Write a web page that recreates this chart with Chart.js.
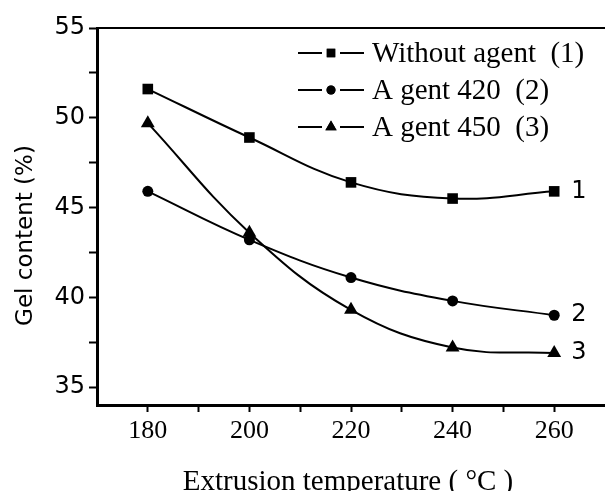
<!DOCTYPE html>
<html><head><meta charset="utf-8">
<script src="https://cdn.jsdelivr.net/npm/chart.js@4/dist/chart.umd.min.js"></script>
<style>html,body{margin:0;padding:0;background:#fff;overflow:hidden}canvas{display:block}</style>
</head><body>
<canvas id="c" width="605" height="491"></canvas>
<script>
// ---- data ----
const temperatures = [180, 200, 220, 240, 260];
const withoutAgent = [51.6, 48.9, 46.4, 45.5, 45.9];
const agent420 = [45.9, 43.2, 41.1, 39.8, 39.0];
const agent450 = [49.7, 43.6, 39.3, 37.2, 36.9];
const seriesNames = ['Without agent  (1)', 'A gent 420  (2)', 'A gent 450  (3)'];
const curveTags = ['1', '2', '3'];
const xTickValues = [180, 190, 200, 210, 220, 230, 240, 250, 260];
const xLabelValues = [180, 200, 220, 240, 260];
const yTickValues = [35, 37.5, 40, 42.5, 45, 47.5, 50, 52.5, 55];
const yLabelValues = [35, 40, 45, 50, 55];
const xRange = [170, 270];
const yRange = [34, 55];
const xTitle = 'Extrusion temperature ( \u00B0C )';
const yTitle = 'Gel content (%)';

const seriesValues = [withoutAgent, agent420, agent450];
const pointStyles = ['rect', 'circle', 'triangle'];
const pointRadii = [7.5, 5.5, 8];
const legendRadii = [6, 4.5, 6.5];

const datasets = seriesValues.map((vals, i) => ({
  label: seriesNames[i],
  data: temperatures.map((t, j) => ({x: t, y: vals[j]})),
  borderColor: '#000',
  backgroundColor: '#000',
  borderWidth: 2,
  tension: 0.4,
  fill: false,
  pointStyle: pointStyles[i],
  pointRadius: pointRadii[i],
  pointBackgroundColor: '#000',
  pointBorderWidth: 0,
  clip: false
}));

const decorations = {
  id: 'decorations',
  afterDraw(chart) {
    const ctx = chart.ctx;
    const a = chart.chartArea;
    ctx.save();
    // top frame line
    ctx.strokeStyle = '#000';
    ctx.lineWidth = 2;
    ctx.beginPath();
    ctx.moveTo(a.left, a.top);
    ctx.lineTo(a.right + 10, a.top);
    ctx.stroke();

    // curve tags
    ctx.fillStyle = '#000';
    ctx.font = '24px "DejaVu Sans"';
    ctx.textAlign = 'left';
    ctx.textBaseline = 'middle';
    chart.data.datasets.forEach((ds, i) => {
      const meta = chart.getDatasetMeta(i);
      const p = meta.data[meta.data.length - 1];
      ctx.fillText(curveTags[i], p.x + 17, p.y);
    });

    // legend
    const lx = a.left + 201;
    const ly = a.top + 25;
    const rowGap = 37;
    chart.data.datasets.forEach((ds, i) => {
      const y = ly + i * rowGap;
      ctx.lineWidth = 2;
      ctx.beginPath();
      ctx.moveTo(lx, y); ctx.lineTo(lx + 24, y);
      ctx.moveTo(lx + 42, y); ctx.lineTo(lx + 66, y);
      ctx.stroke();
      Chart.helpers.drawPoint(ctx, {pointStyle: ds.pointStyle, radius: legendRadii[i], rotation: 0, borderWidth: 0}, lx + 33, y);
      ctx.fill();
      ctx.font = '29px "Liberation Serif"';
      ctx.textBaseline = 'middle';
      ctx.fillText(ds.label, lx + 74, y + 1);
    });

    // axis titles
    ctx.font = '29px "Liberation Serif"';
    ctx.textAlign = 'center';
    ctx.textBaseline = 'alphabetic';
    ctx.fillText(xTitle, 348, a.bottom + 85);

    ctx.translate(26, (a.top + a.bottom) / 2 + 19);
    ctx.rotate(-Math.PI / 2);
    ctx.font = '23px "DejaVu Sans"';
    ctx.textBaseline = 'middle';
    ctx.fillText(yTitle, 0, 0);
    ctx.restore();
  }
};

new Chart(document.getElementById('c'), {
  type: 'line',
  data: {datasets},
  options: {
    responsive: false,
    animation: false,
    layout: {autoPadding: false, padding: {top: 28, right: 0, left: 0, bottom: 0}},
    plugins: {legend: {display: false}, tooltip: {enabled: false}},
    scales: {
      x: {
        type: 'linear',
        min: xRange[0], max: xRange[1],
        afterBuildTicks: s => { s.ticks = xTickValues.map(v => ({value: v})); },
        afterFit: s => { s.height = 86; s.paddingLeft = 0; s.paddingRight = 0; },
        grid: {drawOnChartArea: false, drawTicks: true, tickLength: 7, tickWidth: 2, color: '#000'},
        border: {display: true, color: '#000', width: 3},
        ticks: {autoSkip: false, maxRotation: 0, color: '#000', padding: 4,
          font: {family: '"Liberation Serif"', size: 26},
          callback: v => xLabelValues.includes(v) ? String(v) : ''}
      },
      y: {
        type: 'linear',
        min: yRange[0], max: yRange[1],
        afterBuildTicks: s => { s.ticks = yTickValues.map(v => ({value: v})); },
        afterFit: s => { s.width = 97; s.paddingTop = 0; s.paddingBottom = 0; },
        grid: {drawOnChartArea: false, drawTicks: true, tickLength: 8, tickWidth: 2, color: '#000'},
        border: {display: true, color: '#000', width: 3},
        ticks: {autoSkip: false, color: '#000', padding: 4,
          font: {family: '"DejaVu Sans"', size: 24},
          callback: v => yLabelValues.includes(v) ? String(v) : ''}
      }
    }
  },
  plugins: [decorations]
});
</script>
</body></html>
